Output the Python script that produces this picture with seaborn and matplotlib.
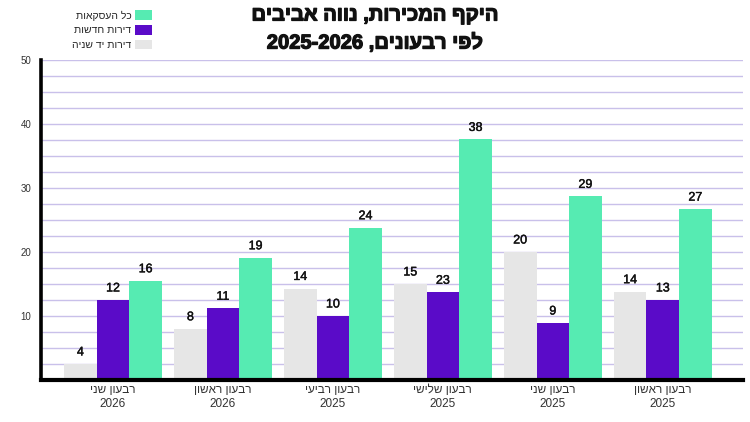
import re
import matplotlib
matplotlib.use("Agg")
import matplotlib.pyplot as plt
import matplotlib.patheffects as pe
from matplotlib.ticker import MultipleLocator
import pandas as pd
import seaborn as sns

# ---------------- data ----------------
quarters = ["רבעון שני\n2026", "רבעון ראשון\n2026", "רבעון רביעי\n2025",
            "רבעון שלישי\n2025", "רבעון שני\n2025", "רבעון ראשון\n2025"]
series_names = ["דירות יד שניה", "דירות חדשות", "כל העסקאות"]
# bar heights as drawn in the picture
second_hand = [2.5, 8.0, 14.3, 15.0, 20.0, 13.8]
new_apts = [12.5, 11.2, 10.0, 13.7, 8.9, 12.5]
all_deals = [15.5, 19.1, 23.8, 37.6, 28.7, 26.7]
# value labels printed above the bars
second_hand_labels = [4, 8, 14, 15, 20, 14]
new_apts_labels = [12, 11, 10, 23, 9, 13]
all_deals_labels = [16, 19, 24, 38, 29, 27]
title_lines = ["היקף המכירות, נווה אביבים", "לפי רבעונים, 2025-2026"]
yticks = [10, 20, 30, 40, 50]

colors = ["#E6E6E6", "#5A0BC8", "#56EBB2"]


def vis(s):
    """Visual (left-to-right) order for a Hebrew line, keeping numbers LTR."""
    r = s[::-1]
    return re.sub(r"[0-9][0-9\-]*[0-9]|[0-9]", lambda m: m.group(0)[::-1], r)


def vis_ml(s):
    return "\n".join(vis(line) for line in s.split("\n"))


rows = []
for name, vals in zip(series_names, [second_hand, new_apts, all_deals]):
    for q, v in zip(quarters, vals):
        rows.append({"quarter": vis_ml(q), "type": name, "value": v})
df = pd.DataFrame(rows)

sns.set_theme(style="white")
plt.rcParams["font.family"] = ["Liberation Sans", "DejaVu Sans"]
narrow = ["Liberation Sans Narrow", "Liberation Sans", "DejaVu Sans"]

fig = plt.figure(figsize=(7.5, 4.22), dpi=100)
fig.patch.set_facecolor("white")
ax = fig.add_axes([0.0547, 0.0995, 0.936, 0.758])

sns.barplot(data=df, x="quarter", y="value", hue="type", hue_order=series_names,
            order=[vis_ml(q) for q in quarters], palette=colors, saturation=1,
            width=0.89, gap=0, ax=ax, zorder=3, linewidth=0, edgecolor="none")

ax.set_xlim(-0.655, 5.73)
ax.set_ylim(0, 50)
ax.set_yticks(yticks)
ax.yaxis.set_minor_locator(MultipleLocator(2.5))
ax.grid(True, axis="y", which="both", color="#C9C0EA", linewidth=1.0, zorder=0)
ax.set_axisbelow(True)
ax.set_xlabel("")
ax.set_ylabel("")

for side in ["top", "right"]:
    ax.spines[side].set_visible(False)
ax.spines["left"].set_linewidth(2.6)
ax.spines["bottom"].set_linewidth(3.0)
ax.spines["left"].set_color("black")
ax.spines["bottom"].set_color("black")
ax.spines["left"].set_zorder(5)
ax.spines["bottom"].set_zorder(5)

ax.tick_params(axis="y", which="both", length=0, pad=7, labelsize=7, labelcolor="#333333")
ax.tick_params(axis="x", length=0, pad=3, labelsize=8.5, labelcolor="#333333")
for t in ax.get_xticklabels():
    t.set_linespacing(1.2)

label_sets = [second_hand_labels, new_apts_labels, all_deals_labels]
for cont, labs in zip(ax.containers, label_sets):
    ax.bar_label(cont, labels=[str(v) for v in labs], padding=4, fontsize=9,
                 color="#111111", family=narrow, zorder=6,
                 path_effects=[pe.withStroke(linewidth=0.3, foreground="#111111")])

# legend (text to the left of the swatches)
handles, labels = ax.get_legend_handles_labels()
if ax.get_legend() is not None:
    ax.get_legend().remove()
handles = handles[::-1]
labels = [vis(l) for l in labels[::-1]]
fig.legend(handles, labels, loc="upper right", bbox_to_anchor=(157 / 750, 1 - 5 / 422),
           markerfirst=False, frameon=False, fontsize=7.5, handlelength=1.65,
           handleheight=1.05, labelspacing=0.42, handletextpad=0.3, borderpad=0,
           labelcolor="#222222")

thick = [pe.withStroke(linewidth=0.9, foreground="#111111")]
fig.text(0.5, 1 - 15 / 422, vis(title_lines[0]), ha="center", va="center",
         fontsize=14.5, fontweight="bold", color="#111111", path_effects=thick,
         family=narrow)
fig.text(0.5, 1 - 43 / 422, vis(title_lines[1]), ha="center", va="center",
         fontsize=14.5, fontweight="bold", color="#111111", path_effects=thick,
         family=narrow)

fig.savefig("out.png", dpi=100, facecolor="white")
